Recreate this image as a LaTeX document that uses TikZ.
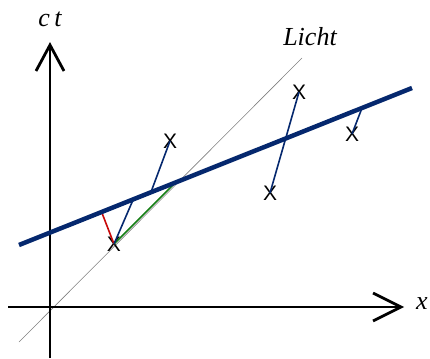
\documentclass[tikz,border=0pt]{standalone}
\usepackage{fontspec}
\setmainfont{Liberation Serif}
\newfontfamily\xfont{Liberation Sans}
\definecolor{navy}{RGB}{5,40,110}
\definecolor{myred}{RGB}{200,10,10}
\definecolor{mygreen}{RGB}{20,125,20}
\tikzset{
  axis/.style={line width=2.8pt,black},
  chev/.style={line width=2.8pt,black,line join=miter},
  worldline/.style={line width=4.5pt,navy},
  proj/.style={line width=1.6pt,navy},
  lightray/.style={line width=0.6pt,gray},
  ev/.style={inner sep=0pt,font=\xfont\fontsize{21}{21}\selectfont},
  lbl/.style={inner sep=0pt,font=\fontsize{26}{26}\selectfont\itshape}
}
\begin{document}
\begin{tikzpicture}[x=1pt,y=-1pt]
\useasboundingbox (0,0) rectangle (430,358);
% coordinates
\coordinate (tTip) at (50,45);
\coordinate (tBot) at (50,358);
\coordinate (xL) at (8,307);
\coordinate (xTip) at (401,307);
\coordinate (lA) at (19,342);
\coordinate (lB) at (302,58);
\coordinate (wA) at (19,245);
\coordinate (wB) at (412,88);
\coordinate (pR) at (102,213);
\coordinate (pB) at (133,200);
\coordinate (pG) at (175,183);
\coordinate (p2) at (151,192);
\coordinate (p5) at (362,108);
% light line
\draw[lightray] (lA) -- (lB);
% axes
\draw[axis] (tBot) -- (tTip);
\draw[chev] (36,71) -- (tTip) -- (64,71);
\draw[axis] (xL) -- (xTip);
\draw[chev] (373,293) -- (xTip) -- (373,321);
% events
\node[ev] (e1) at (114,244) {X};
\node[ev] (e2) at (170,141) {X};
\node[ev] (e3) at (299,92) {X};
\node[ev] (e4) at (270,193) {X};
\node[ev] (e5) at (352,134) {X};
% projections
\draw[line width=1.6pt,myred] (e1.center) -- (pR);
\draw[line width=1.6pt,mygreen] (e1.center) -- (pG);
\draw[proj] (e1.center) -- (pB);
\draw[proj] (e2.center) -- (p2);
\draw[proj] (e3.center) -- (e4.center);
\draw[proj] (e5.center) -- (p5);
% world line
\draw[worldline] (wA) -- (wB);
% labels
\node[lbl] (ct) at (50,19) {c\,t};
\node[lbl] (licht) at (310,37) {Licht};
\node[lbl] (xl) at (422,304) {x};
\end{tikzpicture}
\end{document}
